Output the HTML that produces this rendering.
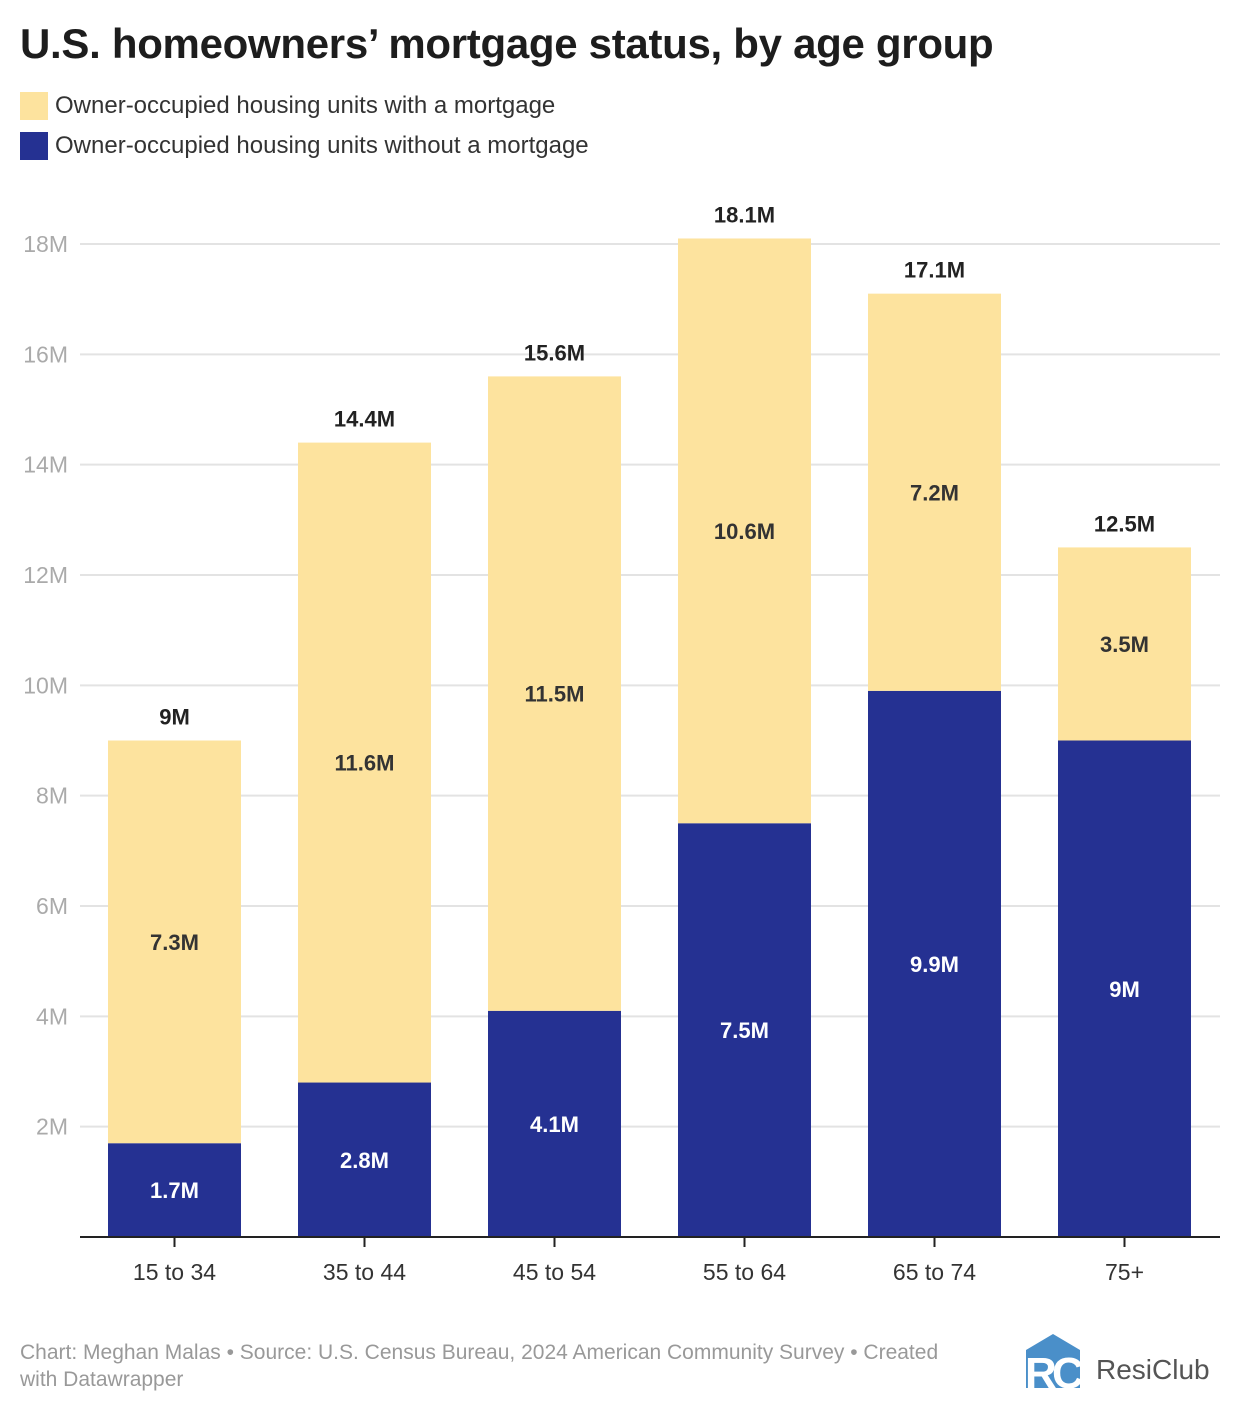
<!DOCTYPE html>
<html><head><meta charset="utf-8"><style>
body{margin:0;background:#fff;font-family:"Liberation Sans",Roboto,sans-serif;}
#wrap{position:relative;width:1240px;height:1412px;overflow:hidden;}
h1{position:absolute;left:20px;top:20px;margin:0;font-size:42px;font-weight:bold;color:#1d1d1d;letter-spacing:-0.3px;}
.leg{position:absolute;left:20px;font-size:24px;color:#333;display:flex;align-items:center;}
.sw{width:28px;height:28px;margin-right:7px;}
.foot{position:absolute;left:20px;top:1339px;width:950px;font-size:21px;color:#999;line-height:27px;}
</style></head><body>
<div id="wrap">
<h1>U.S. homeowners’ mortgage status, by age group</h1>
<div class="leg" style="top:92px"><div class="sw" style="background:#fde39e"></div>Owner-occupied housing units with a mortgage</div>
<div class="leg" style="top:132px"><div class="sw" style="background:#253192"></div>Owner-occupied housing units without a mortgage</div>
<svg id="chart" width="1240" height="1412" style="position:absolute;left:0;top:0"></svg>
<div class="foot">Chart: Meghan Malas • Source: U.S. Census Bureau, 2024 American Community Survey • Created with Datawrapper</div>
<svg style="position:absolute;left:1022px;top:1332px" width="62" height="60">
<polygon points="4,18 31,2 58,18 58,56 4,56" fill="#4a8fc9"/>
<text x="3" y="56" font-family="Liberation Sans" font-weight="bold" font-size="44" fill="#fff">R</text>
<text x="30" y="56" font-family="Liberation Sans" font-weight="bold" font-size="44" fill="#fff">C</text>
</svg>
<div style="position:absolute;left:1096px;top:1354px;font-size:28px;color:#555">ResiClub</div>
</div>
<script>
const categories=["15 to 34","35 to 44","45 to 54","55 to 64","65 to 74","75+"];
const withoutMortgage=[1.7,2.8,4.1,7.5,9.9,9.0];
const withMortgage=[7.3,11.6,11.5,10.6,7.2,3.5];
const yTicks=[2,4,6,8,10,12,14,16,18];
const svg=document.getElementById('chart');
const NS='http://www.w3.org/2000/svg';
const y0=1237,pxPerM=(1237-244)/18;
const y=v=>y0-v*pxPerM;
const x=i=>108+i*190;
const bw=133;
function el(t,a,txt){const e=document.createElementNS(NS,t);for(const k in a)e.setAttribute(k,a[k]);if(txt!==undefined)e.textContent=txt;svg.appendChild(e);return e;}
const fmt=v=>(Math.round(v*10)/10).toString()+"M";
yTicks.forEach(t=>{
 const g=el('line',{x1:80,x2:1220,y1:y(t),y2:y(t),stroke:'#e3e3e3','stroke-width':2});
 
 
 const l=el('text',{x:68,y:y(t)+8,'text-anchor':'end','font-size':23,fill:'#aaa'},t+'M');
 
 
});
categories.forEach((c,i)=>{
 const a=withoutMortgage[i],b=withMortgage[i],tot=a+b;
 const r1=el('rect',{x:x(i),y:y(a),width:bw,height:y0-y(a),fill:'#253192'});
 
 
 const r2=el('rect',{x:x(i),y:y(tot),width:bw,height:y(a)-y(tot),fill:'#fde39e'});
 
 
 const cx=x(i)+bw/2;
 const t1=el('text',{x:cx,y:(y0+y(a))/2+8,'text-anchor':'middle','font-size':22,'font-weight':'bold',fill:'#fff'},fmt(a));
 
 
 const t2=el('text',{x:cx,y:(y(a)+y(tot))/2+8,'text-anchor':'middle','font-size':22,'font-weight':'bold',fill:'#333'},fmt(b));
 
 
 const t3=el('text',{x:cx,y:y(tot)-16,'text-anchor':'middle','font-size':22,'font-weight':'bold',fill:'#222'},fmt(tot));
 
 
 const tk=el('line',{x1:cx,x2:cx,y1:y0,y2:y0+10,stroke:'#222','stroke-width':2});
 
 
 const xl=el('text',{x:cx,y:1280,'text-anchor':'middle','font-size':23,fill:'#333'},c);
 
 
});
const ax=el('line',{x1:80,x2:1220,y1:y0,y2:y0,stroke:'#222','stroke-width':2});


</script>
</body></html>
